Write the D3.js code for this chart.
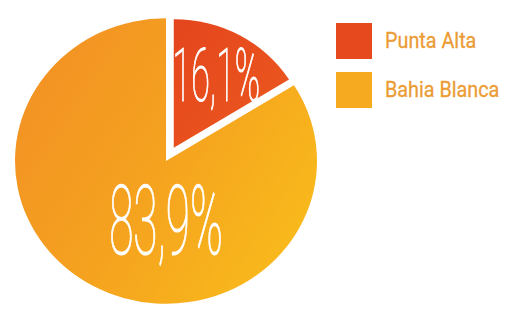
<!DOCTYPE html>
<html>
<head>
<meta charset="utf-8">
<script src="https://cdn.jsdelivr.net/npm/d3@7"></script>
<style>
  body { margin: 0; background: #fff; }
  svg { display: block; }
</style>
</head>
<body>
<div id="chart"></div>
<script>
"use strict"
// data
const cities = ["Punta Alta", "Bahia Blanca"];
const shares = [16.1, 83.9];
const labels = ["16,1%", "83,9%"];

const fullWidth = 505;
const fullHeight = 313;
const cx = 166, cy = 161, radius = 151;
const squash = 0.945; // the pie is drawn slightly flattened

const svg = d3.select("#chart").append("svg")
    .attr("width", fullWidth).attr("height", fullHeight);

const defs = svg.append("defs");
const gBig = defs.append("linearGradient").attr("id", "gBig")
    .attr("x1", "0%").attr("y1", "20%").attr("x2", "100%").attr("y2", "80%");
gBig.append("stop").attr("offset", "0%").attr("stop-color", "#f29124");
gBig.append("stop").attr("offset", "50%").attr("stop-color", "#f5a31f");
gBig.append("stop").attr("offset", "100%").attr("stop-color", "#f9bc1b");
const gSmall = defs.append("linearGradient").attr("id", "gSmall")
    .attr("x1", "0%").attr("y1", "0%").attr("x2", "100%").attr("y2", "100%");
gSmall.append("stop").attr("offset", "0%").attr("stop-color", "#e4451d");
gSmall.append("stop").attr("offset", "100%").attr("stop-color", "#ec5a1e");

const fills = ["url(#gSmall)", "url(#gBig)"];
const legendFills = ["#e7491e", "#f6aa1f"];

const pie = d3.pie().sort(null).value(d => d);
const arcs = pie(shares);
const arcs_r = [136, radius];   // pulled-out slice is a bit smaller
const offsets = [16, 0];
const arc = d3.arc().innerRadius(0).outerRadius((d) => arcs_r[d.index]);
const labelArc = d3.arc().innerRadius(104).outerRadius(104);

const g = svg.append("g")
    .attr("transform", "translate(" + cx + "," + cy + ") scale(1," + squash + ")");

g.selectAll(".slice")
    .data(arcs)
    .enter()
    .append("path")
    .attr("class", "slice")
    .attr("transform", function(d, i) {
        let mid = (d.startAngle + d.endAngle) / 2;
        return "translate(" + (Math.sin(mid) * offsets[i]) + "," + (-Math.cos(mid) * offsets[i]) + ")";
    })
    .attr("d", arc)
    .attr("fill", (d, i) => fills[i]);

// percentage labels, thin condensed white
const sizes = [74, 96];
const tg = svg.append("g").attr("transform", "translate(" + cx + "," + cy + ")");
tg.selectAll(".pct")
    .data(arcs)
    .enter()
    .append("text")
    .attr("class", "pct")
    .attr("transform", function(d, i) {
        let p = i == 0 ? labelArc.centroid(d) : [0, radius * 0.41];
        return "translate(" + p[0] + "," + (p[1] * squash + sizes[i] * 0.355) + ") scale(0.46,1)";
    })
    .attr("text-anchor", "middle")
    .attr("font-family", "Roboto")
    .attr("font-weight", 100)
    .attr("font-size", (d, i) => sizes[i])
    .attr("fill", "#fff")
    .attr("stroke", "#fff")
    .attr("stroke-width", 1.2)
    .text((d, i) => labels[i]);

// legend
const legend = svg.append("g").attr("transform", "translate(336,23)");
const item = legend.selectAll(".item")
    .data(cities)
    .enter()
    .append("g")
    .attr("class", "item")
    .attr("transform", (d, i) => "translate(0," + (i * 49) + ")");

item.append("rect")
    .attr("width", 36).attr("height", 36)
    .attr("fill", (d, i) => legendFills[i]);

item.append("text")
    .attr("transform", "translate(49,25) scale(0.9,1)")
    .attr("font-family", "Roboto")
    .attr("font-size", 22)
    .attr("fill", "#eb9c34")
    .attr("stroke", "#eb9c34")
    .attr("stroke-width", 0.3)
    .text(d => d);
</script>
</body>
</html>
